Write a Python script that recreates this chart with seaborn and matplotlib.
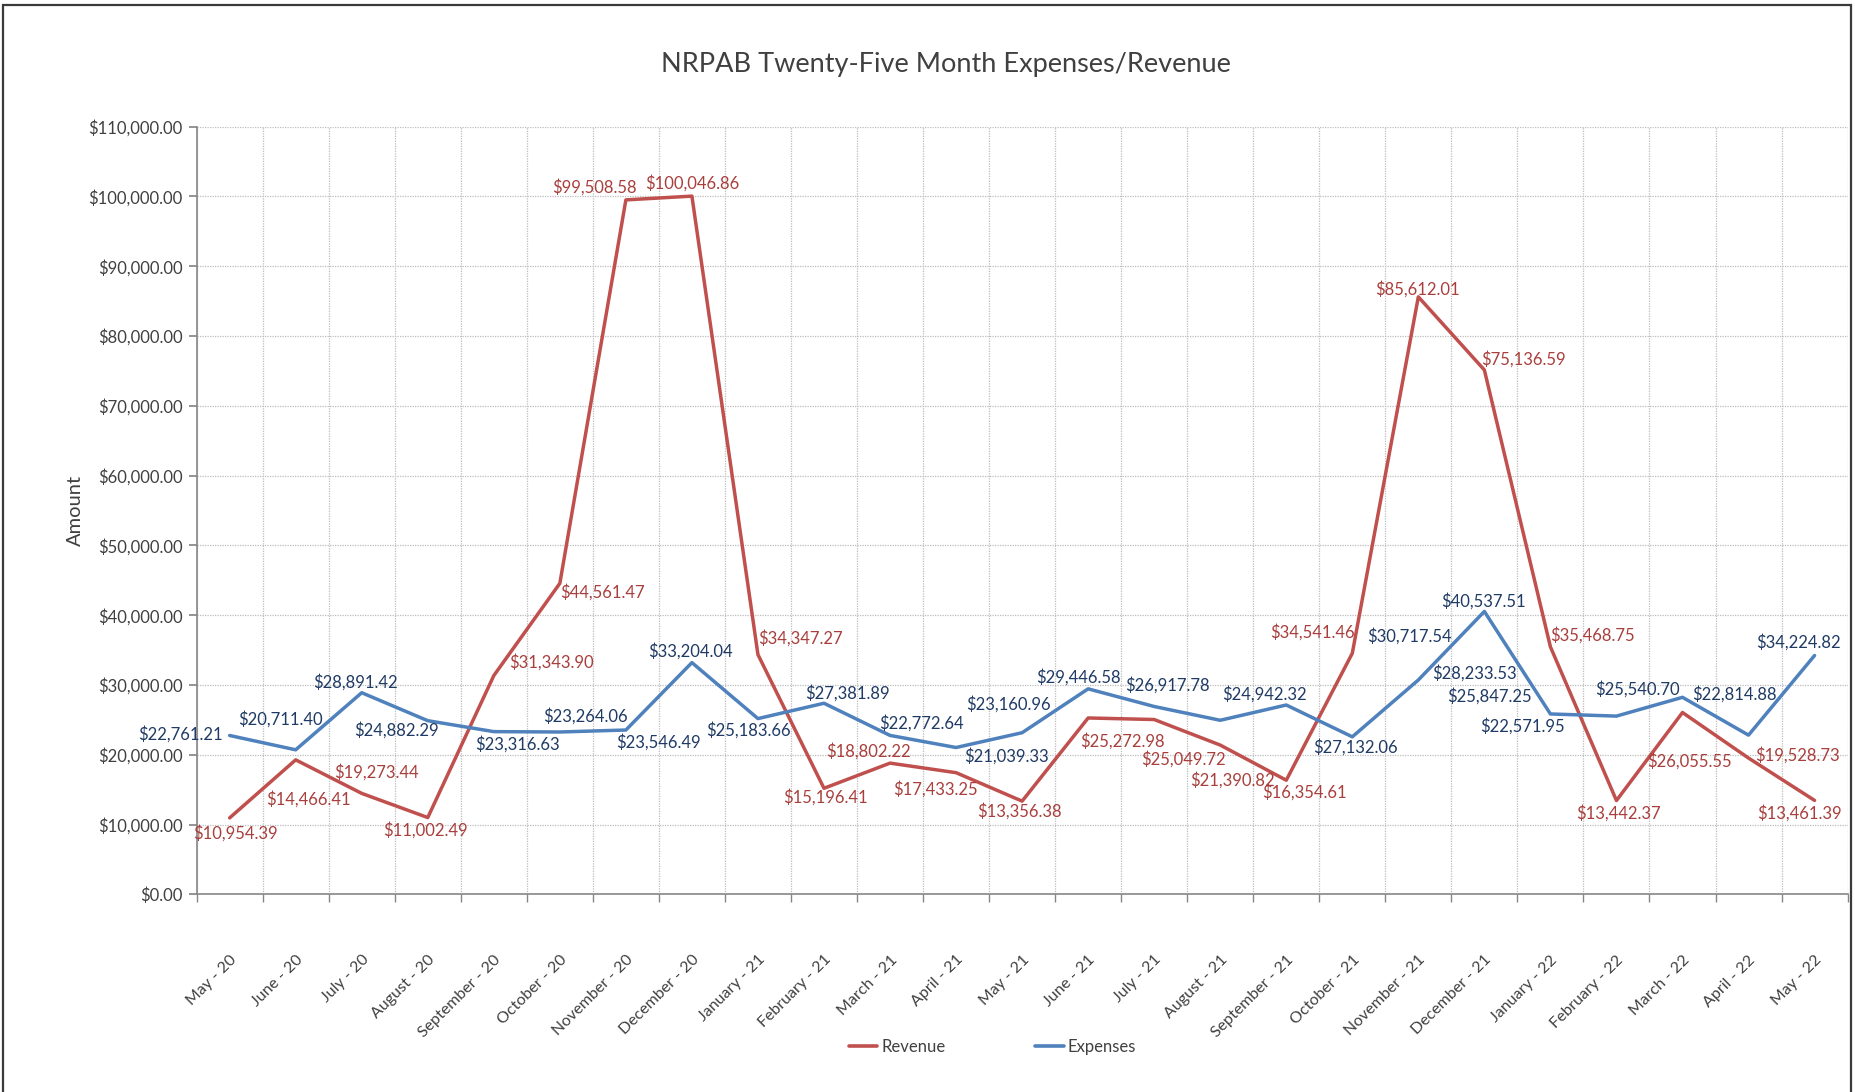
import numpy as np
import pandas as pd
import matplotlib
matplotlib.use("Agg")
import matplotlib.pyplot as plt
import seaborn as sns
from matplotlib.ticker import FuncFormatter, MultipleLocator, FixedLocator
from matplotlib.patches import Rectangle

# --- data ---
months = [
    "May - 20", "June - 20", "July - 20", "August - 20", "September - 20",
    "October - 20", "November - 20", "December - 20", "January - 21",
    "February - 21", "March - 21", "April - 21", "May - 21", "June - 21",
    "July - 21", "August - 21", "September - 21", "October - 21",
    "November - 21", "December - 21", "January - 22", "February - 22",
    "March - 22", "April - 22", "May - 22",
]
revenue = [
    10954.39, 19273.44, 14466.41, 11002.49, 31343.90, 44561.47, 99508.58,
    100046.86, 34347.27, 15196.41, 18802.22, 17433.25, 13356.38, 25272.98,
    25049.72, 21390.82, 16354.61, 34541.46, 85612.01, 75136.59, 35468.75,
    13442.37, 26055.55, 19528.73, 13461.39,
]
expenses = [
    22761.21, 20711.40, 28891.42, 24882.29, 23316.63, 23264.06, 23546.49,
    33204.04, 25183.66, 27381.89, 22772.64, 21039.33, 23160.96, 29446.58,
    26917.78, 24942.32, 27132.06, 22571.95, 30717.54, 40537.51, 25847.25,
    25540.70, 28233.53, 22814.88, 34224.82,
]

# label placement (pixel offsets from each point, x right / y down, as in Excel)
rev_label_offsets = [
    (6, 15), (81, 12), (-53, 6), (-2, 13), (58, -13), (43, 9), (-31, -13),
    (0, -13), (43, -16), (1, 9), (-22, -12), (-21, 17), (-3, 10), (34, 23),
    (29, 40), (12, 35), (18, 12), (-40, -21), (-1, -8), (39, -11), (42, -12),
    (2, 13), (7, 49), (49, -3), (-15, 13),
]
exp_label_offsets = [
    (-49, -1), (-15, -31), (-6, -11), (-31, 9), (24, 13), (26, -16), (33, 12),
    (-1, -11), (-9, 12), (23, -10), (31, -12), (50, 9), (-14, -29), (-10, -12),
    (13, -21), (44, -26), (69, 42), (170, -11), (-9, -44), (-1, -10),
    (-61, -18), (21, -27), (-208, -24), (-14, -41), (-16, -13),
]

RED = "#C0504D"
BLUE = "#4F81BD"
RED_TXT = "#A83F3C"
BLUE_TXT = "#1F3A64"
GRID = "#BDBDBD"

sns.set_theme(style="white")
plt.rcParams["font.family"] = ["Lato", "DejaVu Sans"]

df = pd.DataFrame({"idx": np.arange(len(months)), "Revenue": revenue, "Expenses": expenses})
long_df = df.melt(id_vars="idx", var_name="Series", value_name="Amount")

fig = plt.figure(figsize=(18.55, 10.92), dpi=100)
ax = fig.add_axes([0.106, 0.181, 0.890, 0.703])

sns.lineplot(data=long_df, x="idx", y="Amount", hue="Series",
             palette={"Revenue": RED, "Expenses": BLUE},
             linewidth=2.5, ax=ax, legend=False)

# data labels
for i, v in enumerate(revenue):
    dx, dy = rev_label_offsets[i]
    ax.annotate(f"${v:,.2f}", (i, v), xytext=(dx, -dy), textcoords="offset pixels",
                ha="center", va="center", fontsize=12, color=RED_TXT)
for i, v in enumerate(expenses):
    dx, dy = exp_label_offsets[i]
    ax.annotate(f"${v:,.2f}", (i, v), xytext=(dx, -dy), textcoords="offset pixels",
                ha="center", va="center", fontsize=12, color=BLUE_TXT)

# axes styling
ax.set_xlim(-0.5, len(months) - 0.5)
ax.set_ylim(0, 110000)
ax.yaxis.set_major_locator(MultipleLocator(10000))
ax.yaxis.set_major_formatter(FuncFormatter(lambda v, p: f"${v:,.2f}"))
ax.xaxis.set_major_locator(FixedLocator(np.arange(len(months))))
ax.set_xticklabels(months, rotation=45, ha="right", va="top", rotation_mode="anchor")
ax.xaxis.set_minor_locator(FixedLocator(np.arange(len(months) + 1) - 0.5))

ax.grid(False)
ax.grid(axis="y", which="major", color=GRID, linestyle=(0, (1, 1)), linewidth=0.9)
ax.grid(axis="x", which="minor", color=GRID, linestyle=(0, (1, 1)), linewidth=0.9)

ax.tick_params(axis="x", which="major", length=0, pad=42, labelsize=11.5, labelcolor="#404040")
ax.tick_params(axis="x", which="minor", length=6, color="#868686", direction="out", bottom=True)
ax.tick_params(axis="y", which="major", length=6, color="#868686", direction="out", left=True,
               labelsize=12, labelcolor="#404040", pad=4)

for side in ["top", "right"]:
    ax.spines[side].set_visible(False)
for side in ["left", "bottom"]:
    ax.spines[side].set_color("#868686")
    ax.spines[side].set_linewidth(1.2)

ax.set_xlabel("")
ax.set_ylabel("Amount", fontsize=14.5, color="#404040")
ax.yaxis.set_label_coords(-0.068, 0.5)

fig.text(0.51, 0.941, "NRPAB Twenty-Five Month Expenses/Revenue", ha="center", va="center",
         fontsize=19.5, color="#404040")

handles = [plt.Line2D([], [], color=RED, linewidth=2.6), plt.Line2D([], [], color=BLUE, linewidth=2.6)]
fig.legend(handles, ["Revenue", "Expenses"], loc="center", bbox_to_anchor=(0.535, 0.041),
           ncol=2, frameon=False, fontsize=12, handlelength=1.7, handletextpad=0.25,
           columnspacing=5.4, labelcolor="#404040")

fig.patches.append(Rectangle((0.0015, -0.01), 0.9965, 1.005, transform=fig.transFigure,
                             fill=False, edgecolor="#3A3A3A", linewidth=1.6))

fig.savefig("out.png", dpi=100)
